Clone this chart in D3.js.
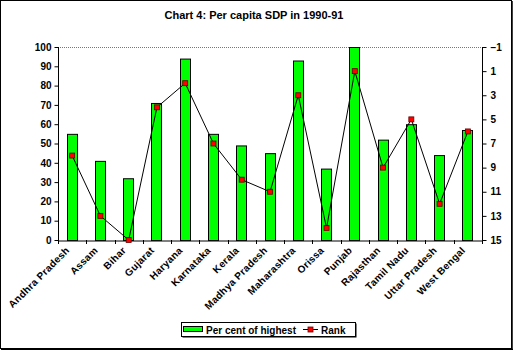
<!DOCTYPE html>
<html><head><meta charset="utf-8">
<script src="https://cdn.jsdelivr.net/npm/d3@7/dist/d3.min.js"></script>
<style>body{margin:0;background:#fff}svg{display:block;font-family:Arial,"Liberation Sans",sans-serif}</style>
</head><body><svg id="c" width="513" height="350"></svg>
<script>
const categories = ["Andhra Pradesh","Assam","Bihar","Gujarat","Haryana","Karnataka","Kerala","Madhya Pradesh","Maharashtra","Orissa","Punjab","Rajasthan","Tamil Nadu","Uttar Pradesh","West Bengal"];
const perCent = [55,41,32,71,94,55,49,45,93,37,100,52,60,44,57];
const rank = [8,13,15,4,2,7,10,11,3,14,1,9,5,12,6];
const leftTicks = [0,10,20,30,40,50,60,70,80,90,100];
const rightTicks = [-1,1,3,5,7,9,11,13,15];

const svg = d3.select("#c");
const L=58,R=482,T=47,B=240;
svg.append("rect").attr("x",0.5).attr("y",0.5).attr("width",511).attr("height",348).attr("fill","#fff").attr("stroke","#000");
svg.append("line").attr("x1",512).attr("x2",512).attr("y1",1).attr("y2",350).attr("stroke","#000").attr("stroke-width",1.5);
svg.append("line").attr("x1",1).attr("x2",513).attr("y1",349.5).attr("y2",349.5).attr("stroke","#000").attr("stroke-width",1.5);

svg.append("text").attr("x",254).attr("y",19).attr("text-anchor","middle").attr("font-size",11).attr("font-weight","bold").text("Chart 4: Per capita SDP in 1990-91");

const x = d3.scaleBand().domain(categories).range([L,R]);
const y = d3.scaleLinear().domain([0,100]).range([B,T]);
const yr = d3.scaleLinear().domain([-1,15]).range([T,B]);

// top gridline dotted
svg.append("line").attr("x1",L).attr("x2",R).attr("y1",T+0.5).attr("y2",T+0.5).attr("stroke","#777").attr("stroke-dasharray","1,1");

// bars
svg.selectAll("rect.bar").data(categories).enter().append("rect")
  .attr("x",d=>Math.round(x(d)+x.bandwidth()/2-5.5)+0.5)
  .attr("y",(d,i)=>y(perCent[i])+0.5)
  .attr("width",10).attr("height",(d,i)=>B-y(perCent[i]))
  .attr("fill","#00ff00").attr("stroke","#000").attr("stroke-width",1);

// axes
const gl = svg.append("g").attr("transform",`translate(${L+0.5},0)`)
  .call(d3.axisLeft(y).tickValues(leftTicks).tickSize(4).tickPadding(3));
const gr = svg.append("g").attr("transform",`translate(${R+0.5},0)`)
  .call(d3.axisRight(yr).tickValues(rightTicks).tickSize(4).tickPadding(4));
const gb = svg.append("g").attr("transform",`translate(0,${B+0.5})`)
  .call(d3.axisBottom(x).tickValues([]).tickSize(0));
[gl,gr,gb].forEach(g=>{
  g.select(".domain").attr("stroke","#000");
  g.selectAll("text").attr("font-size",10).attr("font-weight","bold").attr("fill","#000").attr("font-family","Arial, Liberation Sans, sans-serif");
  g.selectAll("line").attr("stroke","#000");
});
gl.select(".domain").attr("d",`M0,${T}V${B}`);
gr.select(".domain").attr("d",`M0,${T}V${B}`);
// x tick marks at band boundaries
const bounds = categories.map(d=>x(d)).concat([R]);
svg.selectAll("line.xt").data(bounds).enter().append("line")
  .attr("x1",d=>Math.round(d)+0.5).attr("x2",d=>Math.round(d)+0.5)
  .attr("y1",B).attr("y2",B+4).attr("stroke","#000");

// x labels
svg.selectAll("text.xl").data(categories).enter().append("text")
  .attr("transform",d=>`translate(${x(d)+x.bandwidth()/2-2},${B+11}) rotate(-45)`)
  .attr("text-anchor","end").attr("font-size",10).attr("font-weight","bold").attr("letter-spacing",0.3).text(d=>d);

// rank line
const line = d3.line().x((d,i)=>x(categories[i])+x.bandwidth()/2).y(d=>yr(d));
svg.append("path").datum(rank).attr("d",line).attr("fill","none").attr("stroke","#000").attr("stroke-width",1);
svg.selectAll("rect.mk").data(rank).enter().append("rect")
  .attr("x",(d,i)=>x(categories[i])+x.bandwidth()/2-2.5).attr("y",d=>yr(d)-2.5)
  .attr("width",5).attr("height",5).attr("fill","#ff0000").attr("stroke","#600").attr("stroke-width",0.8);

// legend
const lg = svg.append("g");
lg.append("rect").attr("x",182.5).attr("y",323.5).attr("width",174).attr("height",14).attr("fill","#000");
lg.append("rect").attr("x",181.5).attr("y",322.5).attr("width",174).attr("height",14).attr("fill","#fff").attr("stroke","#000");
lg.append("rect").attr("x",183.5).attr("y",326.5).attr("width",19).attr("height",5).attr("fill","#00ff00").attr("stroke","#000");
lg.append("text").attr("x",206).attr("y",334).attr("font-size",10).attr("font-weight","bold").text("Per cent of highest");
lg.append("line").attr("x1",303).attr("x2",318).attr("y1",329.5).attr("y2",329.5).attr("stroke","#000");
lg.append("rect").attr("x",308).attr("y",327).attr("width",5).attr("height",5).attr("fill","#ff0000").attr("stroke","#600").attr("stroke-width",0.8);
lg.append("text").attr("x",321).attr("y",334).attr("font-size",10).attr("font-weight","bold").text("Rank");
</script></body></html>
